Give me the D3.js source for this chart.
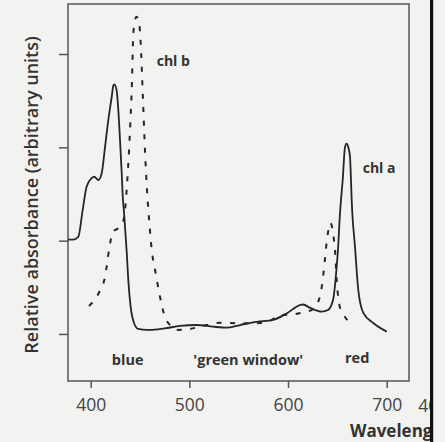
<!DOCTYPE html>
<html>
<head>
<meta charset="utf-8">
<script src="https://cdn.jsdelivr.net/npm/d3@7"></script>
<style>
  body { margin: 0; background: #f2f2f1; }
  svg { display: block; font-family: "Open Sans", sans-serif; }
</style>
</head>
<body>
<script>
// chlorophyll a (solid line)
var chlaWavelength = [377, 382, 387.4, 391.9, 395.9, 401, 403.6, 407.7, 411.1, 414.5, 417.8, 421.3, 422.9, 423.9,
  426.3, 428, 429.7, 431.4, 432.4, 433.8, 436.5, 438.1, 440.5, 443.9, 448.2, 456.8, 460.1, 475, 490.5, 507.4,
  524, 537.8, 551.3, 568.2, 584.8, 598.6, 612.1, 615.2, 622.4, 634.1, 640.5, 645.6, 649.3, 650.6, 652.7,
  653.7, 655.4, 657.7, 659.4, 661.1, 662.8, 663.8, 664.5, 667.9, 671.2, 676.3, 686.4, 700];
var chlaAbsorbance = [1.01, 1.01, 1.04, 1.33, 1.58, 1.67, 1.685, 1.65, 1.72, 2.0, 2.29, 2.54, 2.66, 2.675,
  2.61, 2.40, 2.08, 1.73, 1.49, 1.30, 0.88, 0.58, 0.29, 0.118, 0.054, 0.043, 0.043, 0.06, 0.086, 0.096,
  0.078, 0.068, 0.096, 0.13, 0.15, 0.22, 0.31, 0.316, 0.28, 0.24, 0.257, 0.364, 0.72, 0.90, 1.30,
  1.44, 1.65, 2.0, 2.04, 2.0, 1.90, 1.65, 1.44, 0.93, 0.47, 0.225, 0.118, 0.025];

// chlorophyll b (dashed line)
var chlbWavelength = [398.3, 408.7, 414.5, 418.9, 422.3, 428.7, 432.7, 435.3, 436.8, 438.3, 440.3, 441.9, 442.9,
  444.4, 446.4, 449, 450.5, 453, 455, 457.1, 459.6, 462.1, 465.2, 470.2, 475.3, 480.4, 487.2, 500.6, 517.6,
  531, 548, 564.5, 578.4, 591.9, 605, 618.9, 624, 630.4, 634.1, 637.5, 639.2, 641.5, 643, 645.9, 647.6,
  649.3, 652.7, 656.7, 664.5];
var chlbAbsorbance = [0.30, 0.45, 0.61, 0.92, 1.09, 1.14, 1.20, 1.38, 1.60, 1.86, 2.29, 2.72, 3.15,
  3.34, 3.40, 3.34, 3.15, 2.51, 1.97, 1.54, 1.17, 0.88, 0.69, 0.40, 0.18, 0.096, 0.043, 0.054, 0.096,
  0.12, 0.115, 0.115, 0.125, 0.20, 0.21, 0.24, 0.257, 0.34, 0.50, 0.81, 0.99, 1.14, 1.19, 1.06, 0.90,
  0.58, 0.28, 0.20, 0.096];

var xTickValues = [400, 500, 600, 700];
var xTickLabels = ['400', '500', '600', '700'];
var yTickValues = [0, 1, 2, 3];
var regionLabels = ['blue', "'green window'", 'red'];
var regionCenters = [437.5, 559.7, 670.1];
var seriesNames = ['chl a', 'chl b'];
var yAxisTitle = 'Relative absorbance (arbitrary units)';
var xAxisTitle = 'Wavelength (nm)';

var ink = '#333';
var frameInk = '#555';

var svg = d3.select('body').append('svg').attr('width', 445).attr('height', 442);

var plotLeft = 68, plotTop = 4, plotRight = 409, plotBottom = 381;

var x = d3.scaleLinear().domain([377, 722.6]).range([plotLeft, plotRight]);
var y = d3.scaleLinear().domain([-0.504, 3.536]).range([plotBottom, plotTop]);

svg.append('defs').append('clipPath').attr('id', 'pageclip')
  .append('rect').attr('x', 0).attr('y', 0).attr('width', 430).attr('height', 442);

// frame
svg.append('rect')
  .attr('x', plotLeft).attr('y', plotTop)
  .attr('width', plotRight - plotLeft).attr('height', plotBottom - plotTop)
  .attr('fill', 'none')
  .attr('stroke', frameInk)
  .attr('stroke-width', 1.5);

// y ticks (no labels)
var yAxis = svg.append('g')
  .attr('transform', 'translate(' + plotLeft + ',0)')
  .call(d3.axisLeft(y).tickValues(yTickValues).tickSize(9).tickFormat(''));
yAxis.select('.domain').remove();
yAxis.selectAll('line').attr('stroke', frameInk).attr('stroke-width', 1.5);

// x ticks
var xAxis = svg.append('g')
  .attr('transform', 'translate(0,' + plotBottom + ')')
  .call(d3.axisBottom(x).tickValues(xTickValues).tickSize(7).tickPadding(11)
    .tickFormat(function(d, i) { return xTickLabels[i]; }));
xAxis.select('.domain').remove();
xAxis.selectAll('line').attr('stroke', frameInk).attr('stroke-width', 1.5);
xAxis.selectAll('text')
  .attr('fill', '#444')
  .style('font-family', '"Open Sans", sans-serif')
  .style('font-size', '17.5px');

var line = d3.line()
  .x(function(d) { return x(d[0]); })
  .y(function(d) { return y(d[1]); })
  .curve(d3.curveMonotoneX);

svg.append('path')
  .datum(d3.zip(chlaWavelength, chlaAbsorbance))
  .attr('d', line)
  .attr('fill', 'none')
  .attr('stroke', '#252525')
  .attr('stroke-width', 1.8);

svg.append('path')
  .datum(d3.zip(chlbWavelength, chlbAbsorbance))
  .attr('d', line)
  .attr('fill', 'none')
  .attr('stroke', '#252525')
  .attr('stroke-width', 2)
  .attr('stroke-dasharray', '5,8.5');

// series labels
svg.append('text')
  .attr('x', x(466.9)).attr('y', y(2.875))
  .attr('fill', ink).style('font-size', '14px').style('font-weight', 700)
  .text(seriesNames[1]);
svg.append('text')
  .attr('x', x(675.7)).attr('y', y(1.72))
  .attr('fill', ink).style('font-size', '14px').style('font-weight', 700)
  .text(seriesNames[0]);

// spectral regions
svg.selectAll('.region')
  .data(regionLabels)
  .enter()
  .append('text')
  .attr('class', 'region')
  .attr('x', function(d, i) { return x(regionCenters[i]); })
  .attr('y', function(d, i) { return i == 2 ? 363.3 : 365; })
  .attr('text-anchor', 'middle')
  .attr('fill', ink)
  .style('font-size', '14.5px')
  .style('font-weight', 700)
  .text(function(d) { return d; });

// axis titles
svg.append('text')
  .attr('transform', 'translate(38,195) rotate(-90)')
  .attr('text-anchor', 'middle')
  .attr('fill', ink)
  .style('font-size', '18px')
  .style('font-weight', 600)
  .text(yAxisTitle);

var cut = svg.append('g').attr('clip-path', 'url(#pageclip)');
cut.append('text')
  .attr('x', 350).attr('y', 436.5)
  .attr('fill', ink)
  .style('font-size', '17px')
  .style('font-weight', 700)
  .text(xAxisTitle);
// next page's axis peeking in
cut.append('text')
  .attr('x', 418.3).attr('y', 411.7)
  .attr('fill', '#444')
  .style('font-size', '17.5px')
  .text('400');

// page edge
svg.append('rect')
  .attr('x', 430).attr('y', 0)
  .attr('width', 3.2).attr('height', 442)
  .attr('fill', '#111');
</script>
</body>
</html>
